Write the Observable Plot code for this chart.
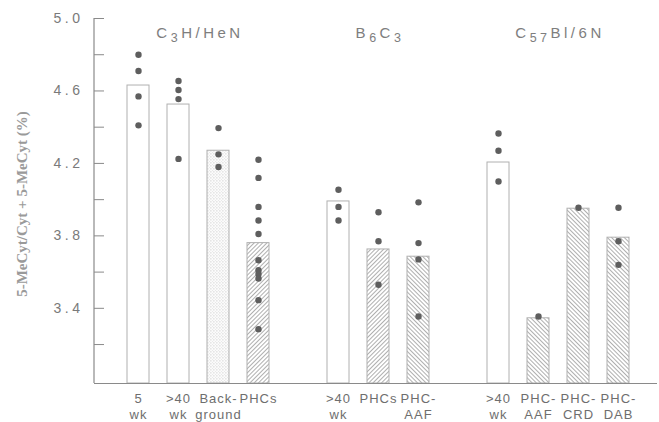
<!DOCTYPE html>
<html><head><meta charset="utf-8">
<script src="https://cdn.jsdelivr.net/npm/d3@7"></script>
<script src="https://cdn.jsdelivr.net/npm/@observablehq/plot@0.6"></script>
<style>
body{margin:0;background:#fff;}
[aria-label="y-axis tick label"] text{letter-spacing:3.5px;}
[aria-label="x-axis tick label"] text{letter-spacing:1px;}
[aria-label="ylabel"] text{letter-spacing:1.3px;}
.gtitle{letter-spacing:3.5px;}
</style>
</head><body><div id="chart"></div>
<script>
// ---- data ----
const ids = ["C3H 5wk","C3H >40wk","C3H Background","C3H PHCs","B6C3 >40wk","B6C3 PHCs","B6C3 PHC-AAF","C57 >40wk","C57 PHC-AAF","C57 PHC-CRD","C57 PHC-DAB"];
const strains = ["C3H","C3H","C3H","C3H","B6C3","B6C3","B6C3","C57","C57","C57","C57"];
const tickLabels = ["5\nwk",">40\nwk","Back-\nground","PHCs",">40\nwk","PHCs","PHC-\nAAF",">40\nwk","PHC-\nAAF","PHC-\nCRD","PHC-\nDAB"];
const means = [4.63, 4.525, 4.27, 3.76, 3.99, 3.725, 3.685, 4.205, 3.345, 3.95, 3.79];
const fillKinds = ["open","open","stipple","hatchR","open","hatchR","hatchL","open","hatchL","hatchL","hatchL"];
const points = [
  [4.80, 4.71, 4.57, 4.41],
  [4.655, 4.605, 4.555, 4.225],
  [4.395, 4.25, 4.18],
  [4.22, 4.12, 3.96, 3.885, 3.81, 3.665, 3.61, 3.59, 3.565, 3.445, 3.285],
  [4.055, 3.96, 3.885],
  [3.93, 3.77, 3.53],
  [3.985, 3.76, 3.67, 3.355],
  [4.365, 4.27, 4.10],
  [3.355],
  [3.955],
  [3.955, 3.77, 3.64]
];
const groupOrder = ["C3H","B6C3","C57"];
const groupTitles = {
  C3H: [["C",0],["3",1],["H/HeN",0]],
  B6C3: [["B",0],["6",1],["C",0],["3",1]],
  C57: [["C",0],["57",1],["Bl/6N",0]]
};
const yTicksAll = [5.0, 4.8, 4.6, 4.4, 4.2, 4.0, 3.8, 3.6, 3.4, 3.2];
const yTicksLabeled = [5.0, 4.6, 4.2, 3.8, 3.4];
const yLabel = "5-MeCyt/Cyt + 5-MeCyt (%)";
const yMin = 2.985, yMax = 5.0;

// ---- build ----
const xDomain = [...ids.slice(0,4), "gap1", ...ids.slice(4,7), "gap2", ...ids.slice(7)];
const labelMap = new Map(ids.map((d,i)=>[d, tickLabels[i]]));
const bars = ids.map((id,i)=>({id, mean: means[i], kind: fillKinds[i]}));
const dots = ids.flatMap((id,i)=>points[i].map(v=>({id, v})));
const fillFor = {open:"white", stipple:"url(#stipple)", hatchR:"url(#hatchR)", hatchL:"url(#hatchL)"};

const W = 659, H = 422, ML = 94, MR = 2, MT = 18, MB = 39;
const plot = Plot.plot({
  width: W, height: H,
  marginLeft: ML, marginRight: MR, marginTop: MT, marginBottom: MB,
  style: {fontFamily: "'Liberation Sans', Arial, sans-serif", background: "white"},
  x: {domain: xDomain, range: [103, 653], padding: 0.46, label: null},
  y: {domain: [yMin, yMax], label: null},
  marks: [
    ...Object.keys(fillFor).map(k => Plot.barY(bars.filter(b=>b.kind===k), {
      x: "id", y1: yMin, y2: "mean", fill: fillFor[k], stroke: "#b0b0b0", strokeWidth: 1
    })),
    Plot.ruleY([yMin], {stroke: "#8a8a8a", strokeWidth: 1.2}),
    Plot.dot(dots, {x: "id", y: "v", r: 3.2, fill: "#5e5e5e", stroke: "none"}),
    Plot.axisY(yTicksAll, {tickSize: -10, tickFormat: () => "", stroke: "#8a8a8a"}),
    Plot.axisY(yTicksLabeled, {tickSize: 0, tickPadding: 11, tickFormat: d3.format(".1f"), fontSize: 14, fill: "#7a7a7a"}),
    Plot.axisX({tickSize: 0, tickPadding: 8, fontSize: 13, lineHeight: 1.22, fill: "#6e6e6e",
      tickFormat: d => labelMap.get(d) ?? ""}),
    Plot.text([yLabel], {text: d => d, frameAnchor: "left", textAnchor: "middle", rotate: -90, dx: -72, dy: 3,
      fontFamily: "'Liberation Serif', 'Times New Roman', serif", fontWeight: "bold", fontSize: 15,
      fill: "#9a9a9a", ariaLabel: "ylabel"})
  ]
});

const svg = d3.select(plot);
const defs = svg.insert("defs", ":first-child");
const st = defs.append("pattern").attr("id","stipple").attr("patternUnits","userSpaceOnUse").attr("width",3).attr("height",3);
st.append("rect").attr("width",3).attr("height",3).attr("fill","#fbfbfb");
st.append("rect").attr("x",0.5).attr("y",0.5).attr("width",0.8).attr("height",0.8).attr("fill","#a8a8a8");
st.append("rect").attr("x",2).attr("y",2).attr("width",0.6).attr("height",0.6).attr("fill","#c8c8c8");
for (const [id, ang] of [["hatchR",45],["hatchL",-45]]) {
  const p = defs.append("pattern").attr("id",id).attr("patternUnits","userSpaceOnUse")
    .attr("width",3).attr("height",3).attr("patternTransform",`rotate(${ang})`);
  p.append("rect").attr("width",3).attr("height",3).attr("fill","white");
  p.append("line").attr("x1",0.5).attr("y1",0).attr("x2",0.5).attr("y2",3).attr("stroke","#9a9a9a").attr("stroke-width",0.8);
}

const xs = plot.scale("x"), ys = plot.scale("y");
const bw = xs.bandwidth;
// y axis line
svg.append("line").attr("x1", ML).attr("x2", ML).attr("y1", ys.apply(yMax)).attr("y2", ys.apply(yMin))
  .attr("stroke", "#8a8a8a").attr("stroke-width", 1.2);
// group titles
for (const g of groupOrder) {
  const members = ids.filter((d,i)=>strains[i]===g);
  const cx = (xs.apply(members[0]) + xs.apply(members[members.length-1]) + bw) / 2;
  const t = svg.append("text").attr("class","gtitle").attr("x", cx + 2).attr("y", 38)
    .attr("text-anchor","middle").attr("fill","#7e7e7e")
    .attr("font-family","'Liberation Sans', Arial, sans-serif").attr("font-size",15);
  let prevSub = 0;
  for (const [s, sub] of groupTitles[g]) {
    const ts = t.append("tspan").text(s);
    const dy = (sub ? 4 : 0) - (prevSub ? 4 : 0);
    if (dy) ts.attr("dy", dy);
    if (sub) ts.attr("font-size", 12.5);
    prevSub = sub;
  }
}
document.getElementById("chart").append(plot);
</script>
</body></html>
